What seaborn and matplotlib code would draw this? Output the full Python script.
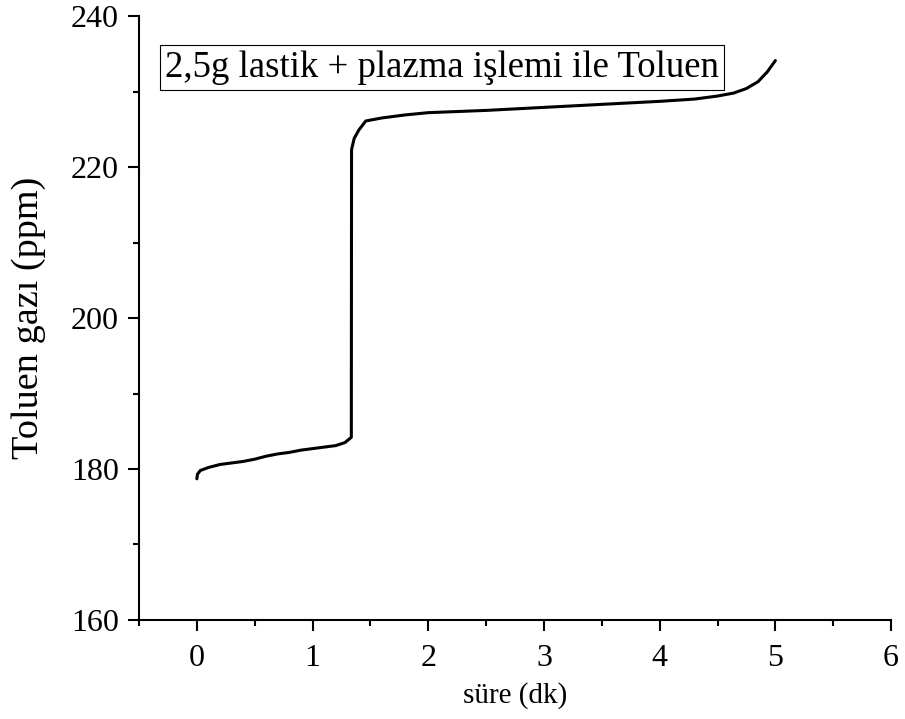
import matplotlib
matplotlib.use("Agg")
import matplotlib.pyplot as plt
import seaborn as sns
import pandas as pd
from matplotlib.ticker import MultipleLocator

time_min = [0.0, 0.005, 0.03, 0.1, 0.2, 0.3, 0.4, 0.5, 0.6, 0.7, 0.8, 0.9, 1.0, 1.1,
            1.2, 1.28, 1.335, 1.337, 1.36, 1.40, 1.46, 1.6, 1.8, 2.0, 2.5, 3.0, 3.5,
            4.0, 4.3, 4.5, 4.64, 4.75, 4.85, 4.93, 5.0]
toluene_ppm = [178.7, 179.3, 179.8, 180.2, 180.6, 180.8, 181.0, 181.3, 181.7, 182.0,
               182.2, 182.5, 182.7, 182.9, 183.1, 183.5, 184.2, 222.3, 223.8, 224.9,
               226.1, 226.5, 226.9, 227.2, 227.5, 227.9, 228.3, 228.7, 229.0, 229.4,
               229.8, 230.4, 231.3, 232.6, 234.1]

x_label = "süre (dk)"
y_label = "Toluen gazı (ppm)"
legend_text = "2,5g lastik + plazma işlemi ile Toluen"

df = pd.DataFrame({"t": time_min, "ppm": toluene_ppm})

sns.set_style("ticks")
plt.rcParams["font.family"] = ["Liberation Serif", "DejaVu Serif"]
plt.rcParams["text.color"] = "black"
plt.rcParams["axes.labelcolor"] = "black"
plt.rcParams["xtick.color"] = "black"
plt.rcParams["ytick.color"] = "black"
plt.rcParams["axes.edgecolor"] = "black"

fig = plt.figure(figsize=(9.05, 7.19), dpi=100)
ax = fig.add_axes([0.1536, 0.1377, 0.831, 0.84])

sns.lineplot(data=df, x="t", y="ppm", ax=ax, color="black", linewidth=2.2,
             sort=False, estimator=None)

ax.set_xlim(-0.5, 6)
ax.set_ylim(160, 240)
ax.xaxis.set_major_locator(MultipleLocator(1))
ax.xaxis.set_minor_locator(MultipleLocator(0.5))
ax.yaxis.set_major_locator(MultipleLocator(20))
ax.yaxis.set_minor_locator(MultipleLocator(10))
ax.tick_params(which="major", direction="out", length=8, width=1.5, labelsize=23)
ax.tick_params(axis="x", which="major", pad=9)
ax.tick_params(axis="y", which="major", pad=6.5)
ax.tick_params(which="minor", direction="out", length=4.5, width=1.5)
for s in ["top", "right"]:
    ax.spines[s].set_visible(False)
for s in ["left", "bottom"]:
    ax.spines[s].set_linewidth(1.5)

ax.set_xlabel(x_label, fontsize=21, labelpad=7)
ax.set_ylabel(y_label, fontsize=27.5, labelpad=18)

ax.text(0.035, 0.915, legend_text, transform=ax.transAxes, fontsize=26.5,
        va="center", ha="left",
        bbox=dict(boxstyle="square,pad=0.14", facecolor="white", edgecolor="black", linewidth=0.8))

fig.savefig("out.png", dpi=100)
